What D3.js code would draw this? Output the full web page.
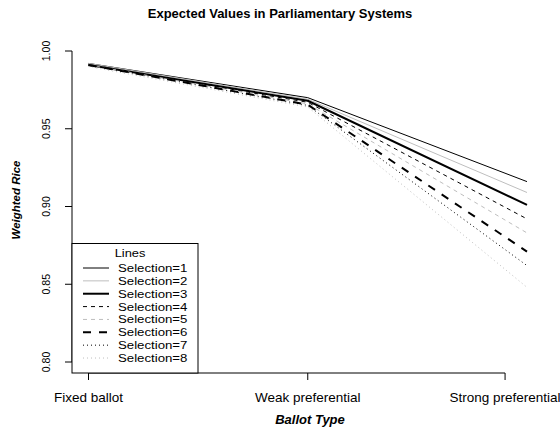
<!DOCTYPE html>
<html><head><meta charset="utf-8">
<script src="https://cdn.jsdelivr.net/npm/d3@7"></script>
<style>body{margin:0;background:#fff}svg{display:block;font-family:"Liberation Sans",Arial,sans-serif}</style>
</head><body><svg id="c" width="560" height="431"></svg>
<script>
const categories = ["Fixed ballot", "Weak preferential", "Strong preferential"];
const tickPositions = [1, 2, 2.9];
const seriesNames = ["Selection=1","Selection=2","Selection=3","Selection=4","Selection=5","Selection=6","Selection=7","Selection=8"];
const sel1 = [0.992, 0.970, 0.916];
const sel2 = [0.992, 0.969, 0.909];
const sel3 = [0.991, 0.968, 0.901];
const sel4 = [0.991, 0.967, 0.892];
const sel5 = [0.991, 0.966, 0.883];
const sel6 = [0.991, 0.9655, 0.871];
const sel7 = [0.991, 0.965, 0.862];
const sel8 = [0.990, 0.964, 0.848];
const seriesValues = [sel1, sel2, sel3, sel4, sel5, sel6, sel7, sel8];
const yTicks = [0.80, 0.85, 0.90, 0.95, 1.00];

const styles = [
  {c:"#000", w:1, d:null},
  {c:"#bebebe", w:1, d:null},
  {c:"#000", w:2, d:null},
  {c:"#000", w:1, d:"4,4"},
  {c:"#bebebe", w:1, d:"4,4"},
  {c:"#000", w:2, d:"8,8"},
  {c:"#000", w:1, d:"1,3"},
  {c:"#bebebe", w:1, d:"1,3"}
];

const svg = d3.select("#c");
const x = d3.scaleLinear().domain([1,3]).range([88.5,527]);
const y = d3.scaleLinear().domain([0.8,1.0]).range([362,51]);
const plotLeft = 72, plotBottom = 373;

svg.append("text").attr("x",280).attr("y",18).attr("text-anchor","middle")
  .attr("font-weight","bold").attr("font-size",13).text("Expected Values in Parliamentary Systems");

// lines
const line = d3.line().x((d,i)=>x(i+1)).y(d=>y(d));
seriesValues.forEach((vals,k)=>{
  const s = styles[k];
  svg.append("path").attr("d", line(vals)).attr("fill","none")
    .attr("stroke", s.c).attr("stroke-width", s.w)
    .attr("stroke-dasharray", s.d).attr("stroke-linejoin","round");
});

// y axis
const ya = svg.append("g");
ya.append("line").attr("x1",plotLeft).attr("x2",plotLeft).attr("y1",y(1.0)).attr("y2",y(0.8)).attr("stroke","#000");
yTicks.forEach(t=>{
  ya.append("line").attr("x1",plotLeft-7).attr("x2",plotLeft).attr("y1",y(t)).attr("y2",y(t)).attr("stroke","#000");
  ya.append("text").attr("transform",`translate(50,${y(t)}) rotate(-90)`).attr("text-anchor","middle")
    .attr("font-size",10.5).text(d3.format(".2f")(t));
});
svg.append("text").attr("transform",`translate(20,200) rotate(-90)`).attr("text-anchor","middle")
  .attr("font-size",11.5).attr("font-weight","bold").attr("font-style","italic").text("Weighted Rice");

// x axis
const xa = svg.append("g");
xa.append("line").attr("x1",x(tickPositions[0])).attr("x2",x(tickPositions[2])).attr("y1",plotBottom).attr("y2",plotBottom).attr("stroke","#000");
tickPositions.forEach((t,i)=>{
  xa.append("line").attr("x1",x(t)).attr("x2",x(t)).attr("y1",plotBottom).attr("y2",plotBottom+7).attr("stroke","#000");
  xa.append("text").attr("x",x(t)).attr("y",402).attr("text-anchor","middle").attr("font-size",13.5).text(categories[i]);
});
svg.append("text").attr("x",310).attr("y",424).attr("text-anchor","middle")
  .attr("font-size",13).attr("font-weight","bold").attr("font-style","italic").text("Ballot Type");

// legend
const lg = svg.append("g");
lg.append("rect").attr("x",plotLeft).attr("y",243.5).attr("width",126).attr("height",plotBottom-243.5)
  .attr("fill","#fff").attr("stroke","#000");
lg.append("text").attr("transform","translate(130,257) scale(1.12,1)").attr("text-anchor","middle").attr("font-size",11.5).text("Lines");
seriesNames.forEach((n,k)=>{
  const cy = 268 + k*12.86;
  const s = styles[k];
  lg.append("line").attr("x1",83).attr("x2",109).attr("y1",cy).attr("y2",cy)
    .attr("stroke",s.c).attr("stroke-width",s.w).attr("stroke-dasharray",s.d);
  lg.append("text").attr("transform",`translate(118,${cy+4}) scale(1.15,1)`).attr("font-size",11.5).text(n);
});
</script></body></html>
